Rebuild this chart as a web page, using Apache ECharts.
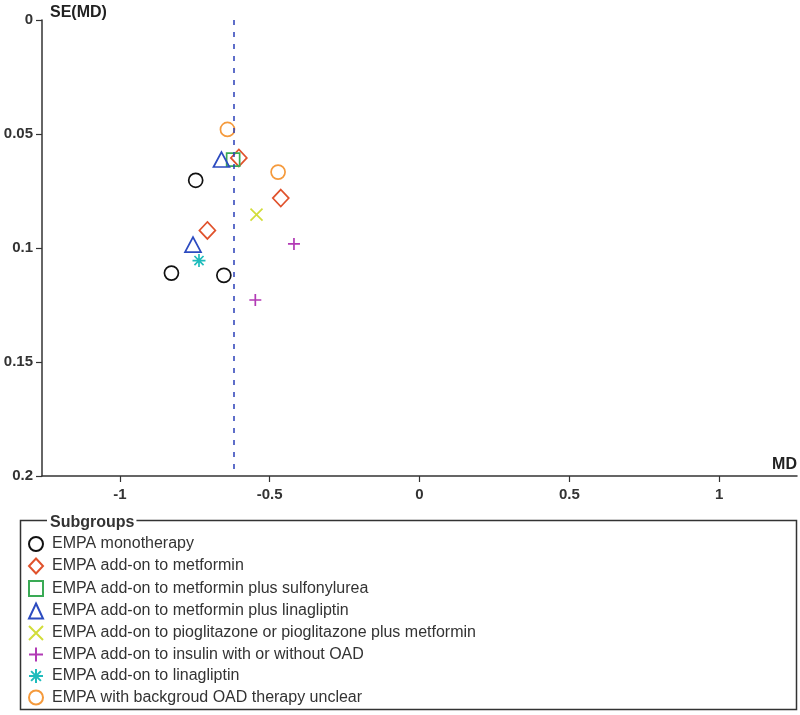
<!DOCTYPE html>
<html>
<head>
<meta charset="utf-8">
<script src="https://cdn.jsdelivr.net/npm/echarts@6/dist/echarts.min.js"></script>
<style>
html,body{margin:0;padding:0;background:#fff;}
#chart{width:800px;height:715px;}
</style>
</head>
<body>
<div id="chart"></div>
<script>
// ---- data (MD, SE(MD)) ----
var subgroupNames = [
  'EMPA monotherapy',
  'EMPA add-on to metformin',
  'EMPA add-on to metformin plus sulfonylurea',
  'EMPA add-on to metformin plus linagliptin',
  'EMPA add-on to pioglitazone or pioglitazone plus metformin',
  'EMPA add-on to insulin with or without OAD',
  'EMPA add-on to linagliptin',
  'EMPA with backgroud OAD therapy unclear'
];
var monotherapy = [[-0.747, 0.0703], [-0.828, 0.111], [-0.653, 0.112]];
var addMetformin = [[-0.603, 0.0605], [-0.463, 0.0781], [-0.708, 0.0923]];
var addMetforminSU = [[-0.622, 0.0612]];
var addMetforminLina = [[-0.661, 0.0612], [-0.756, 0.0985]];
var addPioglitazone = [[-0.544, 0.0854]];
var addInsulin = [[-0.419, 0.0982], [-0.548, 0.1228]];
var addLinagliptin = [[-0.736, 0.1055]];
var unclearOAD = [[-0.641, 0.048], [-0.472, 0.0667]];
var pooledMD = -0.62;
var xTicks = [-1, -0.5, 0, 0.5, 1];
var yTicks = [0, 0.05, 0.1, 0.15, 0.2];

var seriesData = [monotherapy, addMetformin, addMetforminSU, addMetforminLina,
                  addPioglitazone, addInsulin, addLinagliptin, unclearOAD];
var colors = ['#111111', '#e0522c', '#3aaa55', '#2c4bc0', '#d2dd3a', '#b23ab5', '#1fbcbc', '#f59a3c'];
var symbols = [
  'circle', 'diamond', 'rect', 'triangle',
  'path://M0,0L10,10M10,0L0,10',
  'path://M5,0L5,10M0,5L10,5',
  'path://M5,0L5,10M0,5L10,5M1.5,1.5L8.5,8.5M8.5,1.5L1.5,8.5',
  'circle'
];
var sizes = [14, [16, 17], 13, [16, 15], 12, 12, 13, 14];

var FONT = "'Liberation Sans', Arial, sans-serif";

var series = seriesData.map(function (d, i) {
  var s = {
    name: subgroupNames[i],
    type: 'scatter',
    data: d,
    symbol: symbols[i],
    symbolSize: sizes[i],
    itemStyle: { color: 'rgba(0,0,0,0)', borderColor: colors[i], borderWidth: 1.7, opacity: 1 },
    emphasis: { disabled: true },
    z: 3
  };
  if (i === 0) {
    s.markLine = {
      silent: true,
      symbol: 'none',
      label: { show: false },
      lineStyle: { color: '#2a3fb8', width: 1.5, type: [5, 7] },
      data: [{ xAxis: pooledMD }]
    };
  }
  return s;
});

var chart = echarts.init(document.getElementById('chart'), null, { renderer: 'canvas' });
chart.setOption({
  animation: false,
  backgroundColor: '#fff',
  textStyle: { fontFamily: FONT },
  grid: { left: 42, right: 3, top: 20, bottom: 239, containLabel: false },
  xAxis: {
    type: 'value',
    min: -1.26, max: 1.26,
    position: 'bottom',
    name: 'MD',
    nameLocation: 'end',
    nameGap: 0,
    nameTextStyle: { fontFamily: FONT, fontSize: 16, fontWeight: 'bold', color: '#222', align: 'right', verticalAlign: 'bottom', padding: [0, 0, 3, 0] },
    axisLine: { onZero: false, lineStyle: { color: '#333', width: 1.5 } },
    axisTick: { show: true, length: 6, customValues: xTicks, lineStyle: { color: '#333', width: 1.2 } },
    axisLabel: { customValues: xTicks, fontSize: 15, fontWeight: 'bold', color: '#333', margin: 11, fontFamily: FONT },
    splitLine: { show: false }
  },
  yAxis: {
    type: 'value',
    inverse: true,
    min: 0, max: 0.2, interval: 0.05,
    position: 'left',
    name: 'SE(MD)',
    nameLocation: 'start',
    nameGap: -1,
    nameTextStyle: { fontFamily: FONT, fontSize: 16, fontWeight: 'bold', color: '#222', align: 'left', verticalAlign: 'bottom', padding: [0, 0, 0, 8] },
    axisLine: { onZero: false, lineStyle: { color: '#333', width: 1.5 } },
    axisTick: { show: true, length: 6, lineStyle: { color: '#333', width: 1.2 } },
    axisLabel: { fontSize: 15, fontWeight: 'bold', color: '#333', margin: 9, fontFamily: FONT },
    splitLine: { show: false }
  },
  legend: {
    orient: 'vertical',
    left: 28,
    top: 536,
    height: 200,
    padding: 0,
    itemWidth: 14,
    itemHeight: 15,
    itemGap: 5.5,
    selectedMode: false,
    data: subgroupNames,
    textStyle: { fontSize: 16, color: '#333', fontFamily: FONT, lineHeight: 16, padding: [0, 0, 0, 4] }
  },
  graphic: [
    {
      type: 'rect',
      shape: { x: 20.5, y: 520.5, width: 776, height: 189 },
      style: { fill: 'none', stroke: '#333', lineWidth: 1.5 },
      z: 1, silent: true
    },
    {
      type: 'text',
      left: 47, top: 515,
      style: { text: 'Subgroups', font: "bold 16px " + FONT, fill: '#333', backgroundColor: '#fff', padding: [0, 2, 0, 3] },
      z: 2, silent: true
    }
  ],
  series: series
});
</script>
</body>
</html>
